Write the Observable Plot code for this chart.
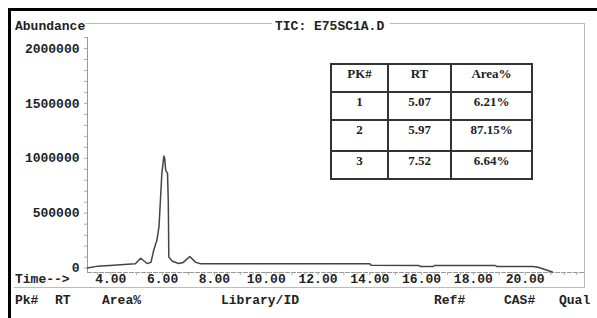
<!DOCTYPE html>
<html>
<head>
<meta charset="utf-8">
<script src="https://cdn.jsdelivr.net/npm/d3@7"></script>
<script src="https://cdn.jsdelivr.net/npm/@observablehq/plot@0.6"></script>
<style>
  html, body { margin: 0; padding: 0; background: #fff; }
  #wrap { position: relative; width: 597px; height: 318px; overflow: hidden; background: #fff; }
  #wrap svg { position: absolute; left: 0; top: 0; }
  .lbl { position: absolute; font-family: "Liberation Mono", "DejaVu Sans Mono", monospace; font-weight: bold; font-size: 13px; color: #222; white-space: pre; line-height: 14px; }
  .ln { position: absolute; background: #bbb; }
  #outer { position: absolute; left: 8px; top: 8px; right: -10px; bottom: -10px; border-top: 3px solid #000; border-left: 3px solid #000; }
  table.pk { position: absolute; left: 330px; top: 63px; border-collapse: collapse; font-family: "Liberation Serif", "Times New Roman", serif; font-weight: bold; font-size: 13px; color: #222; background: #fff; }
  table.pk td { border: 2px solid #333; text-align: center; vertical-align: top; padding: 2px 0 0 0; line-height: 14px; box-sizing: border-box; }
</style>
</head>
<body>
<div id="wrap"></div>
<script>
// Chromatogram trace (retention time in minutes, abundance)
const times = [3.10, 3.50, 4.10, 4.65, 4.95, 5.15, 5.40, 5.55, 5.66, 5.78, 5.86, 5.93, 5.97, 6.01, 6.05, 6.08, 6.12, 6.19, 6.22, 6.24, 6.38, 6.62, 6.80, 7.05, 7.28, 7.47, 14.00, 14.05, 15.90, 15.95, 16.45, 16.50, 18.85, 18.90, 20.30, 20.50, 21.05];
const abundance = [0, 18000, 27000, 35000, 40000, 90000, 42000, 52000, 165000, 255000, 375000, 680000, 860000, 940000, 1020000, 1000000, 890000, 865000, 600000, 100000, 62000, 42000, 52000, 106000, 52000, 40000, 40000, 27000, 24000, 15000, 15000, 24000, 24000, 15000, 15000, 8000, -36000];

// Axis ticks
const xTicks = [4, 6, 8, 10, 12, 14, 16, 18, 20];
const yTicks = [0, 500000, 1000000, 1500000, 2000000];

// Peak table
const pkNum = ["1", "2", "3"];
const pkRT = ["5.07", "5.97", "7.52"];
const pkArea = ["6.21%", "87.15%", "6.64%"];
const tableHeader = ["PK#", "RT", "Area%"];

const trace = times.map((t, i) => ({t, v: abundance[i]}));
const xMinor = d3.range(3.5, 22.01, 0.5);
const yMinor = d3.range(0, 2100001, 100000);

const chart = Plot.plot({
  width: 597,
  height: 318,
  marginLeft: 87,
  marginRight: 12,
  marginTop: 37,
  marginBottom: 46,
  x: {domain: [3.1, 22.33]},
  y: {domain: [-40000, 2100000]},
  style: {fontFamily: "'Liberation Mono', 'DejaVu Sans Mono', monospace", fontWeight: "bold", fontSize: "13px", color: "#222", background: "transparent"},
  marks: [
    Plot.frame({anchor: "left", stroke: "#999", strokeWidth: 1}),
    Plot.frame({anchor: "bottom", stroke: "#999", strokeWidth: 1, strokeDasharray: "4,2"}),
    Plot.axisY(yMinor, {tickSize: 3, text: null, stroke: "#aaa", label: null}),
    Plot.axisY(yTicks, {tickSize: 0, tickPadding: 8, tickFormat: d => String(d), label: null, fill: "#222"}),
    Plot.axisX(xMinor, {tickSize: 3, text: null, stroke: "#aaa", label: null}),
    Plot.axisX(xTicks, {tickSize: 0, tickPadding: 1, tickFormat: d => d.toFixed(2), label: null, fill: "#222"}),
    Plot.line(trace, {x: "t", y: "v", stroke: "#444", strokeWidth: 1.5})
  ]
});

const wrap = document.getElementById("wrap");
wrap.appendChild(chart);

function addDiv(cls, styleText, text) {
  const d = document.createElement("div");
  d.className = cls;
  d.style.cssText = styleText;
  if (text !== undefined) d.textContent = text;
  wrap.appendChild(d);
  return d;
}

// outer black border
addDiv("", "").id = "outer";
// inner grey frame pieces
addDiv("ln", "left:85px; top:23px; width:187px; height:1px;");
addDiv("ln", "left:390px; top:23px; width:195px; height:1px;");
addDiv("ln", "left:584px; top:23px; width:1px; height:264px;");
addDiv("ln", "left:14px; top:287px; width:571px; height:1px;");

// text labels
addDiv("lbl", "left:15px; top:20px;", "Abundance");
addDiv("lbl", "left:275px; top:20px;", "TIC: E75SC1A.D");
addDiv("lbl", "left:15px; top:273px;", "Time-->");
const headers = [["Pk#", 15], ["RT", 55], ["Area%", 102], ["Library/ID", 221], ["Ref#", 434], ["CAS#", 504], ["Qual", 559]];
headers.forEach(([t, x]) => addDiv("lbl", `left:${x}px; top:294px;`, t));

// peak table
const tbl = document.createElement("table");
tbl.className = "pk";
const colW = [57, 63, 81];
const rowH = [28, 28, 31, 28];
const rows = [tableHeader].concat(pkNum.map((n, i) => [n, pkRT[i], pkArea[i]]));
rows.forEach((r, ri) => {
  const tr = document.createElement("tr");
  r.forEach((c, ci) => {
    const td = document.createElement("td");
    td.textContent = c;
    td.style.width = colW[ci] + "px";
    td.style.height = rowH[ri] + "px";
    tr.appendChild(td);
  });
  tbl.appendChild(tr);
});
wrap.appendChild(tbl);
</script>
</body>
</html>
